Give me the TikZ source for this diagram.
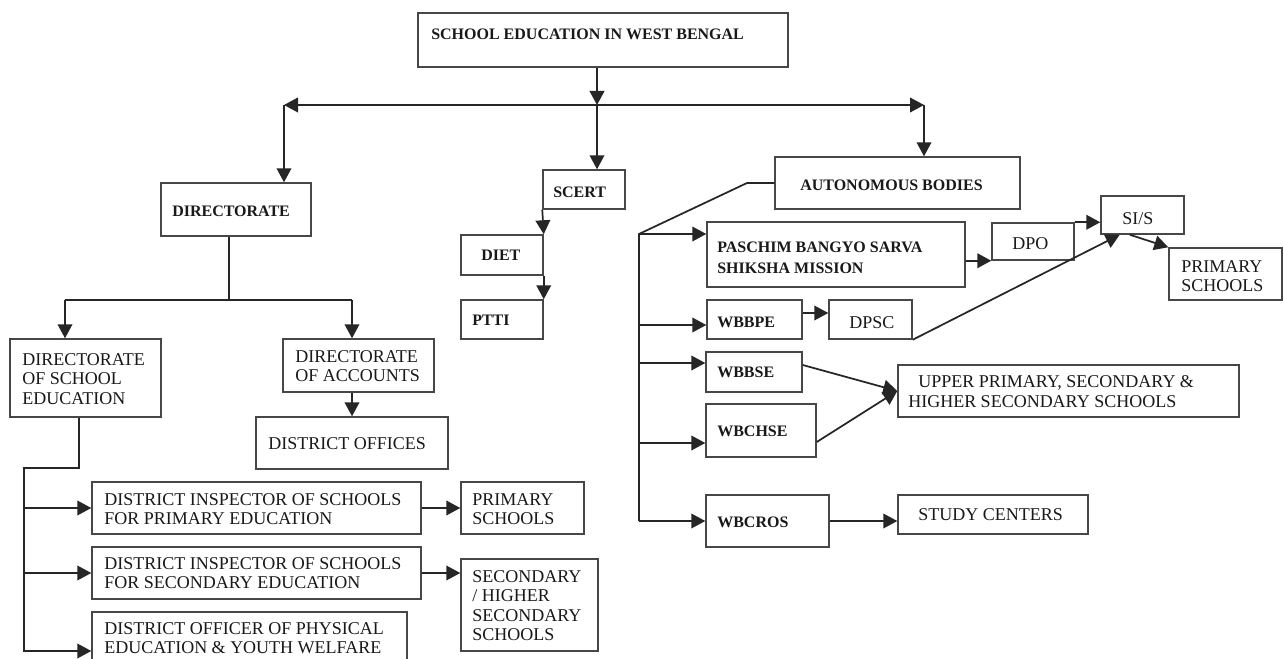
\documentclass[tikz,border=0pt]{standalone}
\usepackage{fontspec}
\setmainfont{Liberation Serif}
\usetikzlibrary{arrows.meta,fit,calc}
\tikzset{
 box/.style={draw=black!72, line width=1.1pt, inner sep=0pt},
 conn/.style={draw=black!85, line width=1.3pt},
 arr/.style={conn, -{Triangle[length=10.5pt,width=11pt]}},
 reg/.style={anchor=north west, inner sep=0pt, align=left, text=black!90, font=\fontsize{13.5pt}{14.6pt}\selectfont},
 bld/.style={anchor=north west, inner sep=0pt, align=left, text=black!90, font=\bfseries\fontsize{12pt}{15.75pt}\selectfont},
}
\newcommand\bx[5]{\node[box, fit={(#2,#3) (#4,#5)}] (#1) {};}
\begin{document}
\begin{tikzpicture}[x=0.75pt,y=-0.75pt]
\path[use as bounding box] (0,0) rectangle (1284,659);
\clip (0,0) rectangle (1284,659);
\fill[white] (0,0) rectangle (1284,659);
% boxes
\bx{top}{418}{13}{788}{67}
\bx{dir}{161}{183}{311}{236}
\bx{scert}{543}{170}{625}{209}
\bx{ab}{775}{157}{1020}{209}
\bx{diet}{461}{235}{543}{275}
\bx{ptti}{461}{300}{543}{339}
\bx{dse}{10}{339}{161}{417}
\bx{doa}{283}{339}{434}{392}
\bx{dof}{256}{417}{448}{469}
\bx{dip}{92}{482}{421}{534}
\bx{ps1}{461}{482}{584}{534}
\bx{dis}{92}{547}{421}{599}
\bx{shs}{461}{559}{598}{651}
\bx{dopw}{92}{612}{407}{690}
\bx{pb}{707}{222}{965}{287}
\bx{dpo}{992}{223}{1074}{260}
\bx{sis}{1101}{196}{1184}{234}
\bx{ps2}{1169}{248}{1282}{300}
\bx{wbbpe}{707}{300}{802}{339}
\bx{dpsc}{829}{300}{912}{339}
\bx{wbbse}{706}{352}{802}{392}
\bx{wbchse}{706}{404}{816}{457}
\bx{ups}{898}{365}{1239}{417}
\bx{wbcros}{706}{495}{829}{547}
\bx{sc}{898}{495}{1088}{534}
% texts
\node[bld] (t-top) at (431,28.5) {SCHOOL EDUCATION IN WEST BENGAL};
\node[bld] (t-dir) at (172,205.5) {DIRECTORATE};
\node[bld] (t-scert) at (553,186.5) {SCERT};
\node[bld] (t-ab) at (800,179.5) {AUTONOMOUS BODIES};
\node[bld] (t-diet) at (481,250.2) {DIET};
\node[bld] (t-ptti) at (472,314.5) {PTTI};
\node[bld] (t-pb) at (717,241.5) {PASCHIM BANGYO SARVA\\SHIKSHA MISSION};
\node[bld] (t-wbbpe) at (717,316.5) {WBBPE};
\node[bld] (t-wbbse) at (717,367) {WBBSE};
\node[bld] (t-wbchse) at (717,426) {WBCHSE};
\node[bld] (t-wbcros) at (717,517) {WBCROS};
\node[reg] (t-dpo) at (1012,237) {DPO};
\node[reg] (t-sis) at (1122,212) {SI/S};
\node[reg] (t-ps2) at (1181,260) {PRIMARY\\SCHOOLS};
\node[reg] (t-dpsc) at (849,316) {DPSC};
\node[reg] (t-ups) at (908,375.7) {\hspace*{7.5pt}UPPER PRIMARY, SECONDARY \&\\HIGHER SECONDARY SCHOOLS};
\node[reg] (t-sc) at (918,508) {STUDY CENTERS};
\node[reg] (t-dse) at (22,353) {DIRECTORATE\\OF SCHOOL\\EDUCATION};
\node[reg] (t-doa) at (295,350) {DIRECTORATE\\OF ACCOUNTS};
\node[reg] (t-dof) at (268,437) {DISTRICT OFFICES};
\node[reg] (t-dip) at (104,493) {DISTRICT INSPECTOR OF SCHOOLS\\FOR PRIMARY EDUCATION};
\node[reg] (t-ps1) at (472,493) {PRIMARY\\SCHOOLS};
\node[reg] (t-dis) at (104,557) {DISTRICT INSPECTOR OF SCHOOLS\\FOR SECONDARY EDUCATION};
\node[reg] (t-shs) at (472,570) {SECONDARY\\/ HIGHER\\SECONDARY\\SCHOOLS};
\node[reg] (t-dopw) at (104,622) {DISTRICT OFFICER OF PHYSICAL\\EDUCATION \& YOUTH WELFARE};
% junction coordinates
\coordinate (bar) at (597,105);
\coordinate (barL) at (284,105);
\coordinate (barR) at (924,105);
\coordinate (j1) at (229,300);
\coordinate (jL) at (65,300);
\coordinate (jR) at (352,300);
\coordinate (k1) at (79,468);
\coordinate (k0) at (24,468);
\coordinate (m1) at (747,183);
\coordinate (m2) at (639,234);
\coordinate (m3) at (639,521);
\coordinate (yBPE) at (639,325);
\coordinate (yBSE) at (639,363);
\coordinate (yCHSE) at (639,443);
\coordinate (yb) at (0,313);
\coordinate (ysa) at (0,365);
\coordinate (ysb) at (0,442);
% connectors
\draw[arr] (top.south -| bar) -- (bar);
\draw[arr] (bar) -- (barL);
\draw[arr] (bar) -- (barR);
\draw[arr] (barL) -- (barL |- dir.north);
\draw[arr] (barR) -- (barR |- ab.north);
\draw[arr] (bar) -- (bar |- scert.north);
\draw[conn] (dir.south -| j1) -- (j1);
\draw[conn] (jL) -- (jR);
\draw[arr] (jL) -- (jL |- dse.north);
\draw[arr] (jR) -- (jR |- doa.north);
\draw[arr] (jR |- doa.south) -- (jR |- dof.north);
\draw[arr] (dse.south -| k1) -- (k1) -- (k0) -- (k0 |- dopw.west) -- (dopw.west);
\draw[arr] (k0 |- dip.west) -- (dip.west);
\draw[arr] (k0 |- dis.west) -- (dis.west);
\draw[arr] (dip.east) -- (ps1.west);
\draw[arr] (dis.east) -- (dis.east -| shs.west);
\draw[arr] (scert.south west) -- (diet.north east);
\draw[arr] (diet.south east) -- (ptti.north east);
\draw[conn] (ab.west) -- (m1) -- (m2) -- (m3);
\draw[arr] (m2) -- (m2 -| pb.west);
\draw[arr] (yBPE) -- (yBPE -| wbbpe.west);
\draw[arr] (yBSE) -- (yBSE -| wbbse.west);
\draw[arr] (yCHSE) -- (yCHSE -| wbchse.west);
\draw[arr] (m3) -- (m3 -| wbcros.west);
\draw[arr] (pb.east |- dpo.south west) -- (dpo.south west);
\draw[arr] (dpo.north east) -- (dpo.north east -| sis.west);
\draw[arr] (dpsc.south east) -- ($(sis.south west)!0.23!(sis.south east)$);
\draw[arr] ($(sis.south west)!0.35!(sis.south east)$) -- (ps2.north west);
\draw[arr] (wbbpe.east |- yb) -- (yb -| dpsc.west);
\draw[arr] (wbbse.east |- ysa) -- (ups.west);
\draw[arr] (wbchse.east |- ysb) -- (ups.west);
\draw[arr] (wbcros.east) -- (wbcros.east -| sc.west);
\end{tikzpicture}
\end{document}
